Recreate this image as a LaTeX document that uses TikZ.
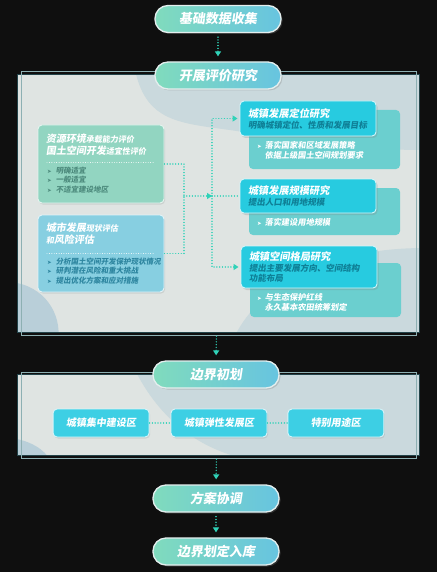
\documentclass[tikz,border=0pt]{standalone}
\usepackage{fontspec}
\setmainfont{Noto Sans CJK SC}[FakeSlant=0.15]
\newfontfamily\tipfont{DejaVu Sans}
\usetikzlibrary{positioning,arrows.meta,shadows}
\definecolor{bgdark}{HTML}{0F0F0F}
\definecolor{pillgreen}{HTML}{80DBBD}
\definecolor{pillblue}{HTML}{67C4E0}
\definecolor{pillrim}{HTML}{E4EEEE}
\definecolor{linkteal}{HTML}{30D2B8}
\definecolor{panellight}{HTML}{DFE4E2}
\definecolor{panelshade}{HTML}{CAD9DD}
\definecolor{panelblob}{HTML}{B9CFD9}
\definecolor{panelline}{HTML}{8DB0B3}
\definecolor{paneledge}{HTML}{23444A}
\definecolor{evalgreen}{HTML}{92D5C1}
\definecolor{evalblue}{HTML}{87CFE1}
\definecolor{studycyan}{HTML}{27CBE0}
\definecolor{studysub}{HTML}{6BCFCF}
\definecolor{zonecyan}{HTML}{3DCFE4}
\definecolor{greentext}{HTML}{4E8C7E}
\definecolor{bluetext}{HTML}{2E86A0}
\definecolor{cyantext}{HTML}{0F7F96}
\newcommand{\bigword}[1]{{\fontsize{10}{12}\selectfont #1}}
\newcommand{\smallword}[1]{{\fontsize{8}{12}\selectfont #1}}
\newcommand{\studytitle}[1]{{\fontsize{10.2}{11}\selectfont #1}}
\newcommand{\tipmark}{{\tipfont\fontsize{5.5}{6}\selectfont ➤}}

\begin{document}
\begin{tikzpicture}[x=1pt, y=-1pt,
    pill/.style={draw=pillrim, line width=1.3pt, rounded corners=13pt, left color=pillgreen, right color=pillblue,
      minimum width=126pt, minimum height=27pt, inner sep=0pt, text=white, font=\fontsize{13}{15}\selectfont\bfseries,
      drop shadow={opacity=0.3, shadow xshift=1.5pt, shadow yshift=-1.5pt}},
    panel/.style={fill=panellight, minimum width=401pt, inner sep=0pt},
    evalbox/.style={rounded corners=4pt, draw=white!75!#1, line width=0.9pt, fill=#1, minimum width=126pt,
      drop shadow={opacity=0.2, shadow xshift=1pt, shadow yshift=-1.5pt}},
    studybox/.style={rounded corners=4pt, draw=white!80!studycyan, line width=0.9pt, fill=studycyan, text width=120pt,
      inner xsep=8pt, inner ysep=0pt, align=left, text=white, font=\fontsize{8.5}{11}\selectfont\bfseries,
      drop shadow={opacity=0.25, shadow xshift=1.5pt, shadow yshift=-2pt}},
    studysub/.style={rounded corners=4pt, fill=studysub, minimum width=151pt, inner sep=0pt},
    zonebox/.style={rounded corners=4pt, draw=white!80!zonecyan, line width=0.9pt, fill=zonecyan, minimum width=96pt,
      minimum height=28pt, text=white, font=\fontsize{10}{12}\selectfont\bfseries,
      drop shadow={opacity=0.2, shadow xshift=1pt, shadow yshift=-1.5pt}},
    linetext/.style={anchor=west, inner sep=0pt, font=\bfseries},
    bullets/.style={anchor=west, inner sep=0pt, font=\fontsize{7.5}{9.5}\selectfont\bfseries},
    link/.style={linkteal, line width=1.4pt, line cap=round, dash pattern=on 0.01pt off 2.8pt},
    flow/.style={link, -{Triangle[width=6pt,length=5pt]}, shorten <=4pt, shorten >=5pt},
    sepline/.style={white, line width=0.9pt, line cap=round, dash pattern=on 0.01pt off 2.4pt}]

  \fill[bgdark] (0,0) rectangle (437,572);

  % evaluation panel
  \node[panel, minimum height=257pt] (evalpanel) at (218.5,203.5) {};
  \begin{scope}
    \clip (evalpanel.north west) rectangle (evalpanel.south east);
    \fill[panelshade] (135,70) .. controls (145,115) and (170,122) .. (215,128)
      .. controls (290,138) and (340,150) .. (425,150) -- (425,70) -- cycle;
    \fill[panelshade] (233,340) .. controls (255,290) and (320,248) .. (425,248) -- (425,340) -- cycle;
    \fill[panelblob] (10,282) .. controls (45,285) and (62,315) .. (58,340) -- (10,340) -- cycle;
  \end{scope}
  \draw[paneledge, line width=1pt] (evalpanel.north west) rectangle (evalpanel.south east);
  \draw[panelline, line width=0.6pt] ([shift={(3,-3)}]evalpanel.north west) rectangle ([shift={(-3,3)}]evalpanel.south east);

  % initial boundary panel
  \node[panel, minimum height=80pt] (initpanel) at (218.5,415) {};
  \begin{scope}
    \clip (initpanel.north west) rectangle (initpanel.south east);
    \fill[panelshade] (135,370) .. controls (160,420) and (200,450) .. (250,460) -- (425,460) -- (425,370) -- cycle;
    \fill[panelblob] (10,438) .. controls (30,440) and (45,450) .. (50,460) -- (10,460) -- cycle;
  \end{scope}
  \draw[paneledge, line width=1pt] (initpanel.north west) rectangle (initpanel.south east);
  \draw[panelline, line width=0.6pt] ([shift={(3,-3)}]initpanel.north west) rectangle ([shift={(-3,3)}]initpanel.south east);

  % main steps
  \node[pill] (collect) at (218,19) {基础数据收集};
  \node[pill] (evaluate) at (218,75.5) {开展评价研究};
  \node[pill] (initial) at (216,374.5) {边界初划};
  \node[pill] (coordinate) at (216,498.5) {方案协调};
  \node[pill] (storage) at (216,551.5) {边界划定入库};

  \draw[flow] (collect) -- (evaluate);
  \draw[flow] (evalpanel.south) ++(-2,0) -- (initial.north);
  \draw[flow] (initpanel.south) ++(-2,0) -- (coordinate.north);
  \draw[flow] (coordinate) -- (storage);

  % evaluation boxes
  \node[evalbox=evalgreen, minimum height=78pt] (resource) at (101,164) {};
  \node[linetext, text=white] (resourcea) at (46,139) {\bigword{资源环境}\smallword{承载能力评价}};
  \node[linetext, text=white] (resourceb) at (46,151) {\bigword{国土空间开发}\smallword{适宜性评价}};
  \draw[sepline] (47,162) -- (155,162);
  \node[bullets, text=greentext] (resourcelist) at (47,181) {%
    \begin{tabular}{@{}l@{\hspace{4pt}}l@{}}
      \tipmark & 明确适宜\\
      \tipmark & 一般适宜\\
      \tipmark & 不适宜建设地区
    \end{tabular}};

  \node[evalbox=evalblue, minimum height=77pt] (urban) at (101,253.5) {};
  \node[linetext, text=white] (urbana) at (46,228) {\bigword{城市发展}\smallword{现状评估}};
  \node[linetext, text=white] (urbanb) at (46,240) {\smallword{和}\bigword{风险评估}};
  \draw[sepline] (47,253) -- (155,253);
  \node[bullets, text=bluetext] (urbanlist) at (47,272) {%
    \begin{tabular}{@{}l@{\hspace{4pt}}l@{}}
      \tipmark & 分析国土空间开发保护现状情况\\
      \tipmark & 研判潜在风险和重大挑战\\
      \tipmark & 提出优化方案和应对措施
    \end{tabular}};

  % study boxes
  \node[studysub, minimum height=59pt] (positionsub) at (324.5,139.5) {};
  \node[studysub, minimum height=47pt] (scalesub) at (324.5,211.5) {};
  \node[studysub, minimum height=54pt] (layoutsub) at (325.5,290) {};

  \node[studybox, minimum height=35pt] (position) at (308,118.5)
    {\studytitle{城镇发展定位研究}\\ \textcolor{cyantext}{明确城镇定位、性质和发展目标}};
  \node[studybox, minimum height=34pt] (scale) at (308,196)
    {\studytitle{城镇发展规模研究}\\ \textcolor{cyantext}{提出人口和用地规模}};
  \node[studybox, minimum height=42pt] (layout) at (309,267)
    {\studytitle{城镇空间格局研究}\\ \textcolor{cyantext}{提出主要发展方向、空间结构}\\[-1.5pt] \textcolor{cyantext}{功能布局}};

  \node[bullets, text=white, font=\fontsize{8.2}{9.5}\selectfont\bfseries] (positionlist) at (257,151.5) {%
    \begin{tabular}{@{}l@{\hspace{3pt}}l@{}}
      \tipmark & 落实国家和区域发展策略\\
               & 依据上级国土空间规划要求
    \end{tabular}};
  \node[bullets, text=white, font=\fontsize{8.2}{9.5}\selectfont\bfseries] (scalelist) at (257,223) {%
    \begin{tabular}{@{}l@{\hspace{3pt}}l@{}}
      \tipmark & 落实建设用地规模
    \end{tabular}};
  \node[bullets, text=white, font=\fontsize{8.2}{9.5}\selectfont\bfseries] (layoutlist) at (257,303.5) {%
    \begin{tabular}{@{}l@{\hspace{3pt}}l@{}}
      \tipmark & 与生态保护红线\\
               & 永久基本农田统筹划定
    \end{tabular}};

  % evaluation connectors
  \coordinate (merge) at (184,196);
  \coordinate (trunk) at (212,196);
  \draw[link] (resource.east) -| (merge);
  \draw[link] (urban.east) -| (merge);
  \draw[link, -{Triangle[width=6pt,length=5pt]}] (merge) -- (trunk);
  \draw[link, -{Triangle[width=6pt,length=5pt]}, shorten >=2pt] (trunk) |- (position.west);
  \draw[link] (trunk) -- (scale.west);
  \draw[link, -{Triangle[width=6pt,length=5pt]}, shorten >=2pt] (trunk) |- (layout.west);

  % zone boxes
  \node[zonebox] (zoneflex) at (219,423) {城镇弹性发展区};
  \node[zonebox, left=21pt of zoneflex] (zonecore) {城镇集中建设区};
  \node[zonebox, right=20pt of zoneflex] (zonespecial) {特别用途区};
  \draw[link] (zonecore) -- (zoneflex);
  \draw[link] (zoneflex) -- (zonespecial);
\end{tikzpicture}
\end{document}
